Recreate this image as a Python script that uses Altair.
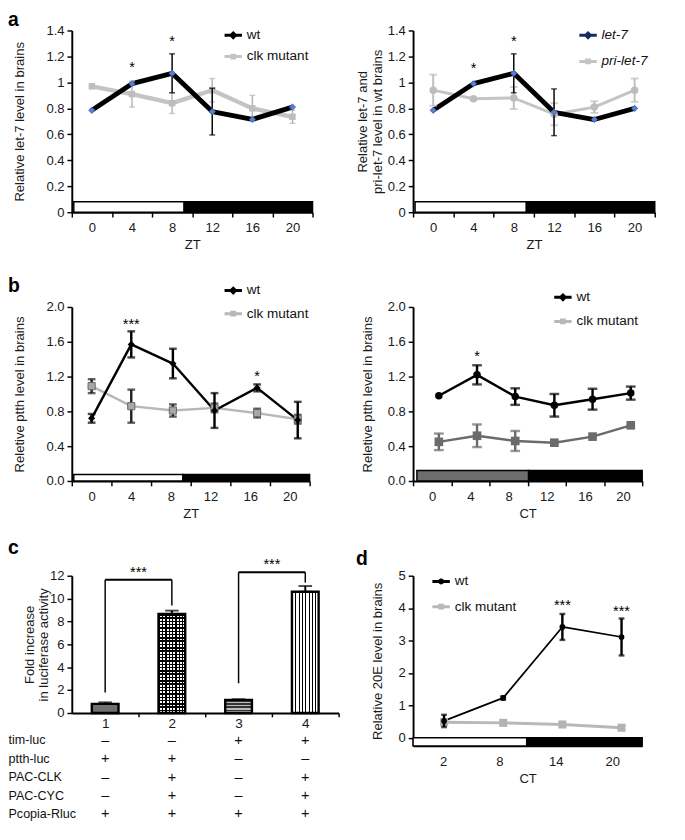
import altair as alt
import pandas as pd

FONT = "Liberation Sans"

# ---------------- data ----------------
a1_x = [0, 4, 8, 12, 16, 20]
a1_wt = [0.785, 0.99, 1.07, 0.775, 0.715, 0.81]
a1_wt_err = [0, 0, 0.15, 0.18, 0, 0]
a1_clk = [0.97, 0.91, 0.84, 0.94, 0.80, 0.735]
a1_clk_err = [0, 0.10, 0.08, 0.09, 0.10, 0.05]
a1_star_x = [4, 8]
a1_star_y = [1.12, 1.32]
a1_star_t = ["*", "*"]
a1_ld_start = [-1.8, 9.2]
a1_ld_end = [9.2, 22]
a1_ld_kind = ["light", "dark"]

a2_x = [0, 4, 8, 12, 16, 20]
a2_let7 = [0.785, 0.99, 1.07, 0.77, 0.714, 0.80]
a2_let7_err = [0, 0, 0.15, 0.18, 0, 0]
a2_pri = [0.94, 0.874, 0.88, 0.755, 0.81, 0.94]
a2_pri_err = [0.12, 0, 0.085, 0.085, 0.045, 0.09]
a2_star_x = [4, 8]
a2_star_y = [1.11, 1.32]
a2_star_t = ["*", "*"]
a2_ld_start = [-1.8, 9.25]
a2_ld_end = [9.25, 22]
a2_ld_kind = ["light", "dark"]

b1_x = [0, 4, 8.2, 12.4, 16.7, 20.8]
b1_wt = [0.72, 1.57, 1.35, 0.81, 1.07, 0.70]
b1_wt_err = [0.05, 0.15, 0.17, 0.20, 0.04, 0.21]
b1_clk = [1.09, 0.86, 0.81, 0.84, 0.78, 0.71]
b1_clk_err = [0.08, 0.19, 0.07, 0.05, 0.05, 0.05]
b1_star_x = [4, 16.7]
b1_star_y = [1.80, 1.21]
b1_star_t = ["***", "*"]
b1_ld_start = [-1.8, 9.2]
b1_ld_end = [9.2, 22]
b1_ld_kind = ["light", "dark"]

b2_x = [0.7, 4.7, 8.7, 12.8, 16.8, 20.8]
b2_wt = [0.98, 1.22, 0.97, 0.87, 0.94, 1.01]
b2_wt_err = [0, 0.11, 0.095, 0.13, 0.12, 0.075]
b2_clk = [0.45, 0.52, 0.46, 0.44, 0.51, 0.64]
b2_clk_err = [0.095, 0.13, 0.115, 0, 0, 0]
b2_star_x = [4.7]
b2_star_y = [1.44]
b2_star_t = ["*"]
b2_ld_start = [-1.6, 10.1]
b2_ld_end = [10.1, 22]
b2_ld_kind = ["subjective", "dark"]

c_groups = ["1", "2", "3", "4"]
c_fold = [0.8, 8.65, 1.15, 10.6]
c_err = [0.13, 0.30, 0.05, 0.50]
c_br_from = ["1", "3"]
c_br_to = ["2", "4"]
c_br_y = [11.65, 12.3]
c_br_low_left = [1.8, 2.6]
c_br_low_right = [9.4, 11.4]
c_br_star_y = [12.35, 13.0]
c_br_star_t = ["***", "***"]
c_rows = ["tim-luc", "ptth-luc", "PAC-CLK", "PAC-CYC", "Pcopia-Rluc"]
c_signs = {
    "1": ["–", "+", "–", "–", "+"],
    "2": ["–", "+", "+", "+", "+"],
    "3": ["+", "–", "–", "–", "+"],
    "4": ["+", "–", "+", "+", "+"],
}

d_x = [2.1, 8.4, 14.7, 21.0]
d_wt = [0.52, 1.23, 3.42, 3.11]
d_wt_err = [0.19, 0.05, 0.40, 0.57]
d_clk = [0.48, 0.46, 0.41, 0.31]
d_clk_err = [0, 0, 0, 0]
d_star_x = [14.7, 21.0]
d_star_y = [4.1, 3.9]
d_star_t = ["***", "***"]
d_ld_start = [-1.2, 10.9]
d_ld_end = [10.9, 23.2]
d_ld_kind = ["light", "dark"]

# ---------------- styles ----------------
LD_KINDS = ["light", "dark", "subjective"]
LD_COLORS = ["white", "black", "#6e6e6e"]
P_DIAMOND = "M-1,-0.17H-0.33L0,-0.5L0.33,-0.17H1V0.17H0.33L0,0.5L-0.33,0.17H-1Z"
P_SQUARE = "M-1,-0.17H-0.33V-0.33H0.33V-0.17H1V0.17H0.33V0.33H-0.33V0.17H-1Z"
P_CIRCLE = ("M-1,-0.17H-0.29A0.335,0.335 0 0,1 0.29,-0.17H1V0.17H0.29"
            "A0.335,0.335 0 0,1 -0.29,0.17H-1Z")


def mk(x, y, e):
    return pd.DataFrame({"x": x, "y": y,
                         "lo": [a - b for a, b in zip(y, e)],
                         "hi": [a + b for a, b in zip(y, e)]})


def ld_frame(s, e, k):
    return pd.DataFrame({"start": s, "end": e, "kind": k})


def star_frame(x, y, t):
    return pd.DataFrame({"x": x, "y": y, "t": t})


def zt_axis(title, width):
    return alt.Axis(title=title, values=[-2, 2, 6, 10, 14, 18, 22],
                    labelExpr="datum.value >= 22 ? '' : format(datum.value + 2, 'd')",
                    labelOffset=width / 12, labelFlush=False, labelOverlap=False,
                    tickSize=5, labelPadding=4, titlePadding=4, domainWidth=2)


def y_axis(title, values, fmt, title_x):
    return alt.Axis(title=title, values=values, format=fmt, titleX=title_x,
                    labelFlush=False, labelOverlap=False, tickSize=5,
                    labelPadding=3, domainWidth=2, titleLineHeight=15, orient="left")


def panel_title(letter, dx, dy):
    return alt.Title(letter, anchor="start", frame="group", dx=dx, dy=dy,
                     fontSize=20, fontWeight="bold", font=FONT, color="black", offset=0)


def line_panel(width, height, xdom, ydom, xaxis, yaxis, ld, ld_y, series,
               stars, legend, title=None):
    xs = alt.Scale(domain=xdom, nice=False, zero=False)
    ys = alt.Scale(domain=ydom, nice=False, zero=False)

    def X(f):
        return alt.X(f, type="quantitative", scale=xs, axis=xaxis)

    def Y(f):
        return alt.Y(f, type="quantitative", scale=ys, axis=yaxis)

    layers = [alt.Chart(ld).mark_rect(stroke="black", strokeWidth=1.5).encode(
        x=X("start"), x2="end",
        y=alt.YDatum(ld_y[0], type="quantitative", scale=ys, axis=yaxis),
        y2=alt.Y2Datum(ld_y[1]),
        fill=alt.Fill("kind:N", scale=alt.Scale(domain=LD_KINDS, range=LD_COLORS),
                      legend=None))]
    for s in series:
        layers.append(alt.Chart(s["df"]).mark_line(
            color=s["line_color"], strokeWidth=s["line_width"], strokeJoin="round"
        ).encode(x=X("x"), y=Y("y")))
    for s in series:
        base = alt.Chart(s["df"])
        if s.get("err_color"):
            layers.append(base.transform_filter("datum.hi > datum.lo").mark_errorbar(
                ticks=True, size=s["err_size"], thickness=s["err_width"],
                color=s["err_color"]).encode(x=X("x"), y=Y("lo"), y2="hi"))
        layers.append(base.mark_point(
            filled=True, shape=s["shape"], size=s["size"], fill=s["fill"],
            stroke=s["stroke"], strokeWidth=s["stroke_width"], opacity=1
        ).encode(x=X("x"), y=Y("y")))
    layers.append(alt.Chart(stars).mark_text(
        font=FONT, fontSize=15, color="black", baseline="middle"
    ).encode(x=X("x"), y=Y("y"), text="t:N"))

    lg = alt.Legend(title=None, orient="none", legendX=legend["x"], legendY=legend["y"],
                    direction="vertical", symbolSize=324, labelFont=FONT,
                    labelFontSize=14, labelFontStyle=legend.get("style", "normal"),
                    labelColor="#111", rowPadding=legend["rp"], padding=0, offset=0,
                    labelOffset=5, symbolStrokeWidth=0, labelLimit=300)
    names = legend["names"]
    layers.append(alt.Chart(pd.DataFrame({"series": names})).transform_filter("false")
                  .mark_point(filled=True, opacity=1).encode(
        color=alt.Color("series:N", scale=alt.Scale(domain=names, range=legend["colors"]),
                        legend=lg),
        shape=alt.Shape("series:N", scale=alt.Scale(domain=names, range=legend["paths"]),
                        legend=lg)))
    ch = alt.layer(*layers).properties(width=width, height=height)
    if title is not None:
        ch = ch.properties(title=title)
    return ch


A_H = 188
aL = line_panel(
    249, A_H, [-2, 22], [0, 1.4], zt_axis("ZT", 249),
    y_axis("Relative let-7 level in brains", [0, 0.2, 0.4, 0.6, 0.8, 1.0, 1.2, 1.4], "~g", -47),
    ld_frame(a1_ld_start, a1_ld_end, a1_ld_kind), (0, 0.08),
    [
        dict(df=mk(a1_x, a1_clk, a1_clk_err), line_color="#c4c4c4", line_width=4.5,
             shape="square", size=45, fill="#bdbdbd", stroke="#bdbdbd", stroke_width=0,
             err_color="#b5b5b5", err_size=6, err_width=1.5),
        dict(df=mk(a1_x, a1_wt, a1_wt_err), line_color="black", line_width=5,
             shape="diamond", size=40, fill="#5b7fd0", stroke="#3d62b8", stroke_width=1,
             err_color="black", err_size=6, err_width=1.5),
    ],
    star_frame(a1_star_x, a1_star_y, a1_star_t),
    dict(x=158, y=-4, rp=6, names=["wt", "clk mutant"], colors=["black", "#c4c4c4"],
         paths=[P_DIAMOND, P_SQUARE]),
    title=panel_title("a", -66, 6),
)

aR = line_panel(
    250, A_H, [-2, 22], [0, 1.4], zt_axis("ZT", 250),
    y_axis(["Relative let-7 and", "pri-let-7 level in wt brains"],
           [0, 0.2, 0.4, 0.6, 0.8, 1.0, 1.2, 1.4], "~g", -45),
    ld_frame(a2_ld_start, a2_ld_end, a2_ld_kind), (0, 0.08),
    [
        dict(df=mk(a2_x, a2_pri, a2_pri_err), line_color="#c4c4c4", line_width=3,
             shape="circle", size=60, fill="#bdbdbd", stroke="#bdbdbd", stroke_width=0,
             err_color="#bdbdbd", err_size=8, err_width=2),
        dict(df=mk(a2_x, a2_let7, a2_let7_err), line_color="black", line_width=5,
             shape="diamond", size=40, fill="#5b7fd0", stroke="#3d62b8", stroke_width=1,
             err_color="black", err_size=6, err_width=1.5),
    ],
    star_frame(a2_star_x, a2_star_y, a2_star_t),
    dict(x=172, y=-4, rp=11, names=["let-7", "pri-let-7"], colors=["#1b2a5c", "#c4c4c4"],
         paths=[P_DIAMOND, P_SQUARE], style="italic"),
)

B_H = 180
bL = line_panel(
    246, B_H, [-2, 22], [0, 2.0], zt_axis("ZT", 246),
    y_axis("Reletive ptth level in brains", [0, 0.4, 0.8, 1.2, 1.6, 2.0], ".1f", -47),
    ld_frame(b1_ld_start, b1_ld_end, b1_ld_kind), (0, 0.075),
    [
        dict(df=mk(b1_x, b1_clk, b1_clk_err), line_color="#b8b8b8", line_width=2.5,
             shape="square", size=55, fill="#a8a8a8", stroke="#666", stroke_width=1,
             err_color="#222", err_size=8, err_width=2.5),
        dict(df=mk(b1_x, b1_wt, b1_wt_err), line_color="black", line_width=2.5,
             shape="diamond", size=55, fill="black", stroke="black", stroke_width=0,
             err_color="black", err_size=8, err_width=2.5),
    ],
    star_frame(b1_star_x, b1_star_y, b1_star_t),
    dict(x=158, y=-26, rp=8, names=["wt", "clk mutant"], colors=["black", "#b8b8b8"],
         paths=[P_DIAMOND, P_SQUARE]),
    title=panel_title("b", -66, 14),
)

bR = line_panel(
    237, B_H, [-2, 22], [0, 2.0], zt_axis("CT", 237),
    y_axis("Reletive ptth level in brains", [0, 0.4, 0.8, 1.2, 1.6, 2.0], ".1f", -40),
    ld_frame(b2_ld_start, b2_ld_end, b2_ld_kind), (0, 0.12),
    [
        dict(df=mk(b2_x, b2_clk, b2_clk_err), line_color="#6b6b6b", line_width=2.5,
             shape="square", size=80, fill="#6b6b6b", stroke="#6b6b6b", stroke_width=0,
             err_color="#6b6b6b", err_size=10, err_width=2.5),
        dict(df=mk(b2_x, b2_wt, b2_wt_err), line_color="black", line_width=2.5,
             shape="circle", size=60, fill="black", stroke="black", stroke_width=0,
             err_color="black", err_size=10, err_width=2.5),
    ],
    star_frame(b2_star_x, b2_star_y, b2_star_t),
    dict(x=146, y=-19, rp=9, names=["wt", "clk mutant"], colors=["black", "#b8b8b8"],
         paths=[P_DIAMOND, P_SQUARE]),
)

d_xaxis = alt.Axis(title="CT", values=[2, 8, 14, 20], ticks=False, labelPadding=9,
                   titlePadding=4, labelFlush=False, domainWidth=2, format="d")
dD = line_panel(
    237, 176, [-1.2, 23.2], [-0.25, 5], d_xaxis,
    y_axis("Relative 20E level in brains", [0, 1, 2, 3, 4, 5], "~g", -30),
    ld_frame(d_ld_start, d_ld_end, d_ld_kind), (-0.25, 0),
    [
        dict(df=mk(d_x, d_clk, d_clk_err), line_color="#b8b8b8", line_width=3,
             shape="square", size=70, fill="#b3b3b3", stroke="#b3b3b3", stroke_width=0),
        dict(df=mk(d_x, d_wt, d_wt_err), line_color="black", line_width=1.8,
             shape="circle", size=35, fill="black", stroke="black", stroke_width=0,
             err_color="black", err_size=6, err_width=2.5),
    ],
    star_frame(d_star_x, d_star_y, d_star_t),
    dict(x=20, y=-3, rp=10, names=["wt", "clk mutant"], colors=["black", "#b8b8b8"],
         paths=[P_CIRCLE, P_SQUARE]),
    title=panel_title("d", -59, 0),
)

C_W, C_H = 276, 142
step = C_W / 4


def stripes(n, c1, c2, frac, vertical):
    stops = []
    for i in range(n):
        a, b, e = i / n, (i + frac) / n, (i + 1) / n
        stops += [{"offset": a, "color": c1}, {"offset": b, "color": c1},
                  {"offset": b, "color": c2}, {"offset": e, "color": c2}]
    g = {"gradient": "linear", "stops": stops}
    if vertical:
        g.update(x1=0, x2=1, y1=0, y2=0)
    else:
        g.update(x1=0, x2=0, y1=0, y2=1)
    return g


c_df = pd.DataFrame({"grp": c_groups, "val": c_fold,
                     "hi": [v + e for v, e in zip(c_fold, c_err)]})
br_df = pd.DataFrame({"from": c_br_from, "to": c_br_to, "y": c_br_y,
                      "lowL": c_br_low_left, "lowR": c_br_low_right,
                      "sy": c_br_star_y, "t": c_br_star_t})
tab_df = pd.DataFrame([{"grp": g, "row": r, "sign": s}
                       for g in c_groups for r, s in zip(c_rows, c_signs[g])])

cxs = alt.Scale(domain=c_groups, paddingInner=0.6, paddingOuter=0.3)
cxax = alt.Axis(title=None, labelAngle=0, bandPosition=0.5, tickOffset=step / 2,
                labelOffset=-step / 2, tickSize=4, labelPadding=0, labelFontSize=14,
                domainWidth=2)
cys = alt.Scale(domain=[0, 12], nice=False, zero=True)
cyax = y_axis(["Fold increase", "in luciferase activity"], list(range(0, 13, 2)), "~g", -37)


def CX(f="grp"):
    return alt.X(f + ":N", scale=cxs, axis=cxax)


def CY(f):
    return alt.Y(f, type="quantitative", scale=cys, axis=cyax)


c_layers = [alt.Chart(c_df).mark_errorbar(ticks=True, size=14, thickness=2, color="black")
            .encode(x=CX(), y=CY("val"), y2="hi")]
bar_fills = {
    "1": ["#707070"],
    "2": [stripes(30, "black", "white", 0.45, False),
          stripes(8, "black", "rgba(0,0,0,0)", 0.45, True)],
    "3": [stripes(4, "#333", "#bbbbbb", 0.5, False)],
    "4": [stripes(8, "black", "white", 0.3, True)],
}
for g in c_groups:
    fills = bar_fills[g]
    for i, f in enumerate(fills):
        last = i == len(fills) - 1
        c_layers.append(alt.Chart(c_df).transform_filter(alt.datum.grp == g).mark_bar(
            fill=f, stroke="black" if last else None, strokeWidth=2.5 if last else 0
        ).encode(x=CX(), y=CY("val")))
c_layers.append(alt.Chart(br_df).mark_rule(strokeWidth=2, color="black").encode(
    x=CX("from"), x2="to:N", y=CY("y")))
c_layers.append(alt.Chart(br_df).mark_rule(strokeWidth=1.5, color="black").encode(
    x=CX("from"), y=CY("lowL"), y2="y"))
c_layers.append(alt.Chart(br_df).mark_rule(strokeWidth=1.5, color="black").encode(
    x=CX("to"), y=CY("lowR"), y2="y"))
c_layers.append(alt.Chart(br_df).mark_text(font=FONT, fontSize=15, dx=step / 2,
                                           baseline="middle").encode(
    x=CX("from"), y=CY("sy"), text="t:N"))
c_inner = alt.layer(*c_layers)

tab = alt.Chart(tab_df).mark_text(font=FONT, fontSize=15, color="#111").encode(
    x=CX(),
    y=alt.Y("row:N", scale=alt.Scale(type="point", domain=c_rows, range=[170, 246], padding=0),
            axis=alt.Axis(orient="left", title=None, domain=False, ticks=False, tickSize=0,
                          labelAlign="left", labelPadding=66, labelFontSize=13,
                          labelBaseline="middle", labelColor="#111")),
    text="sign:N")

cC = alt.layer(c_inner, tab).resolve_scale(y="independent").properties(
    width=C_W, height=C_H, title=panel_title("c", -66, 0))

chart = alt.concat(
    aL, aR, bL, bR, cC, dD, columns=2,
    spacing={"row": 98, "column": 77}, bounds="flush", align="each",
).resolve_scale(
    color="independent", shape="independent", fill="independent"
).resolve_legend(
    color="independent", shape="independent", fill="independent"
).properties(
    padding={"left": 0, "top": -12, "right": 2, "bottom": 2},
).configure(font=FONT).configure_view(stroke=None).configure_axis(
    labelFont=FONT, titleFont=FONT, labelFontSize=13.5, titleFontSize=13.5,
    titleFontWeight="normal", labelColor="#1a1a1a", titleColor="#1a1a1a",
    domainColor="black", tickColor="black", tickWidth=1.5, grid=False,
)

chart.save("out.html", embed_options={"renderer": "svg", "actions": False})
